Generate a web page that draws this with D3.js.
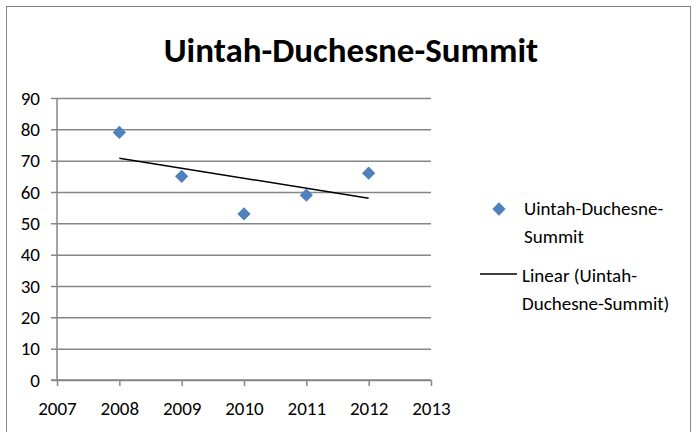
<!DOCTYPE html>
<html>
<head>
<meta charset="utf-8">
<script src="https://cdn.jsdelivr.net/npm/d3@7"></script>
<style>
  body { margin: 0; background: #fff; }
  svg { display: block; }
  text { font-family: Carlito, Calibri, "Liberation Sans", sans-serif; fill: #000; }
</style>
</head>
<body>
<svg width="697" height="432"></svg>
<script>
// values
const years = [2008, 2009, 2010, 2011, 2012];
const counts = [79, 65, 53, 59, 66];
const seriesName = "Uintah-Duchesne-Summit";
const xTicks = [2007, 2008, 2009, 2010, 2011, 2012, 2013];
const yTicks = [0, 10, 20, 30, 40, 50, 60, 70, 80, 90];

const svg = d3.select("svg");
const gridColor = "#868686";

// outer chart frame
svg.append("rect")
    .attr("x", 6.5).attr("y", 6.5)
    .attr("width", 684).attr("height", 440)
    .attr("fill", "#fff")
    .attr("stroke", gridColor)
    .attr("stroke-width", 1);

const plot = {left: 57, right: 431, top: 98, bottom: 380};

const xScale = d3.scaleLinear().domain([2007, 2013]).range([plot.left, plot.right]);
const yScale = d3.scaleLinear().domain([0, 90]).range([plot.bottom, plot.top]);

// Title
svg.append("text")
    .attr("x", 351)
    .attr("y", 62)
    .attr("text-anchor", "middle")
    .style("font-weight", "bold")
    .style("font-size", "35px")
    .text(seriesName);

// horizontal gridlines + y axis
const yAxis = svg.append("g")
    .attr("transform", "translate(" + plot.left + ",0)")
    .call(d3.axisLeft(yScale)
        .tickValues(yTicks)
        .tickSize(6)
        .tickPadding(11)
        .tickFormat(d3.format("d")));
yAxis.select(".domain").remove();
yAxis.selectAll(".tick line")
    .attr("x2", plot.right - plot.left)
    .attr("x1", -6)
    .attr("stroke", gridColor)
    .attr("stroke-width", 1.5);
yAxis.selectAll(".tick text")
    .style("font-size", "19px")
    .attr("font-family", null);

// x axis
const xAxis = svg.append("g")
    .attr("transform", "translate(0," + plot.bottom + ")")
    .call(d3.axisBottom(xScale)
        .tickValues(xTicks)
        .tickSize(6)
        .tickPadding(16)
        .tickFormat(d3.format("d")));
xAxis.select(".domain").remove();
xAxis.selectAll(".tick line")
    .attr("stroke", gridColor)
    .attr("stroke-width", 1.5);
xAxis.selectAll(".tick text")
    .style("font-size", "19px")
    .attr("font-family", null);

// axis lines
svg.append("line")
    .attr("x1", plot.left).attr("x2", plot.left)
    .attr("y1", plot.top).attr("y2", plot.bottom)
    .attr("stroke", gridColor).attr("stroke-width", 1.5);
svg.append("line")
    .attr("x1", plot.left - 6).attr("x2", plot.right)
    .attr("y1", plot.bottom).attr("y2", plot.bottom)
    .attr("stroke", gridColor).attr("stroke-width", 1.5);

// linear trend (least squares fit of the points)
const data = years.map(function(y, i) { return {year: y, value: counts[i]}; });
const mx = d3.mean(data, d => d.year), my = d3.mean(data, d => d.value);
const slope = d3.sum(data, d => (d.year - mx) * (d.value - my)) /
              d3.sum(data, d => (d.year - mx) * (d.year - mx));
const trend = [years[0], years[years.length - 1]].map(function(x) {
    return {year: x, value: my + slope * (x - mx)};
});

svg.append("path")
    .datum(trend)
    .attr("fill", "none")
    .attr("stroke", "#000")
    .attr("stroke-width", 1.5)
    .attr("d", d3.line()
        .x(d => xScale(d.year))
        .y(d => yScale(d.value)));

// diamonds
const diamond = d3.symbol().type(d3.symbolSquare).size(88);
svg.selectAll(".pt")
    .data(data)
    .enter().append("path")
    .attr("class", "pt")
    .attr("d", diamond)
    .attr("transform", d => "translate(" + xScale(d.year) + "," + yScale(d.value) + ") rotate(45)")
    .attr("fill", "#4F81BD");

// legend
const legend = svg.append("g");
legend.append("path")
    .attr("d", diamond)
    .attr("transform", "translate(499,209) rotate(45)")
    .attr("fill", "#4F81BD");
legend.append("text")
    .attr("x", 524).attr("y", 215)
    .style("font-size", "19px")
    .selectAll("tspan")
    .data(["Uintah-Duchesne-", "Summit"])
    .enter().append("tspan")
    .attr("x", 524)
    .attr("dy", (d, i) => i ? 28 : 0)
    .text(d => d);

legend.append("line")
    .attr("x1", 480).attr("x2", 517)
    .attr("y1", 274).attr("y2", 274)
    .attr("stroke", "#000").attr("stroke-width", 1.5);
legend.append("text")
    .attr("x", 522).attr("y", 282)
    .style("font-size", "19px")
    .selectAll("tspan")
    .data(["Linear (Uintah-", "Duchesne-Summit)"])
    .enter().append("tspan")
    .attr("x", 522)
    .attr("dy", (d, i) => i ? 28 : 0)
    .text(d => d);
</script>
</body>
</html>
